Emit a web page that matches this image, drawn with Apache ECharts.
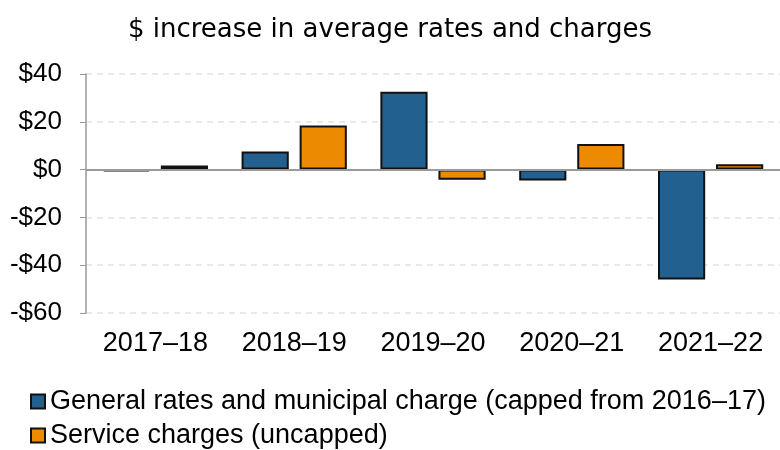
<!DOCTYPE html>
<html>
<head>
<meta charset="utf-8">
<script src="https://cdn.jsdelivr.net/npm/echarts@6/dist/echarts.min.js"></script>
<style>
  html, body { margin: 0; padding: 0; background: #fff }
  #chart { width: 780px; height: 450px }
</style>
</head>
<body>
<div id="chart"></div>
<script>
const years = ['2017–18', '2018–19', '2019–20', '2020–21', '2021–22']
const generalRates = [-0.8, 7.6, 32.6, -4.6, -46]
const serviceCharges = [1.7, 18.4, -4.2, 10.7, 2.2]
const seriesNames = ['General rates and municipal charge (capped from 2016–17)', 'Service charges (uncapped)']

const font = 'Liberation Sans, Arial, sans-serif'
const chart = echarts.init(document.getElementById('chart'))

chart.setOption({
  textStyle: { fontFamily: font, color: '#000' },
  title: {
    text: '$ increase in average rates and charges',
    left: 'center', top: 12,
    textStyle: { fontFamily: 'DejaVu Sans', fontSize: 26, fontWeight: 'normal', color: '#000' },
  },
  legend: {
    orient: 'vertical', left: 30, top: 388, padding: 0,
    itemWidth: 14, itemHeight: 14, itemGap: 7,
    icon: 'rect',
    textStyle: { fontFamily: font, fontSize: 27, color: '#000' },
    data: seriesNames,
  },
  grid: { left: 86, right: 0, top: 74, bottom: 137, containLabel: false },
  xAxis: {
    type: 'category', data: years,
    axisLine: { show: false }, axisTick: { show: false },
    axisLabel: { fontFamily: font, fontSize: 27, color: '#000', margin: 17 },
  },
  yAxis: {
    type: 'value', min: -60, max: 40, interval: 20,
    axisLine: { show: true, lineStyle: { color: '#999', width: 1.5 } },
    axisTick: { show: true, length: 6, lineStyle: { color: '#999' } },
    axisLabel: {
      fontFamily: font, fontSize: 26, color: '#000', margin: 24,
      formatter: v => (v < 0 ? '-$' + Math.abs(v) : '$' + v),
    },
    splitLine: { lineStyle: { color: '#e2e2e2', type: [6, 5], width: 1.5 } },
  },
  series: [
    {
      name: seriesNames[0], type: 'bar', data: generalRates,
      barWidth: '34%', barGap: '23%',
      itemStyle: { color: '#22608f', borderColor: '#111', borderWidth: 2 },
      markLine: {
        silent: true, symbol: 'none', label: { show: false },
        lineStyle: { color: '#9a9a9a', type: 'solid', width: 2 },
        data: [{ yAxis: 0 }],
      },
    },
    {
      name: seriesNames[1], type: 'bar', data: serviceCharges,
      barWidth: '34%',
      itemStyle: { color: '#ec8b00', borderColor: '#111', borderWidth: 2 },
    },
  ],
})
</script>
</body>
</html>
